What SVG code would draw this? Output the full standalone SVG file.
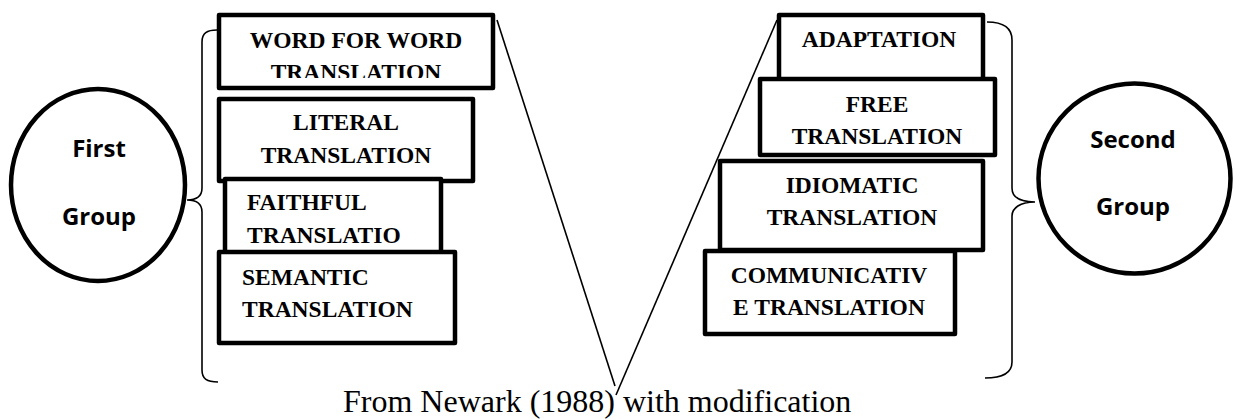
<svg xmlns="http://www.w3.org/2000/svg" width="1241" height="419" viewBox="0 0 1241 419">
<style>
.box{fill:#fff;stroke:#000;stroke-width:4.5;stroke-linejoin:round}
.circ{fill:#fff;stroke:#000;stroke-width:4.5}
.t{font-family:"Liberation Serif",serif;font-weight:bold;font-size:23.5px;fill:#000}
.c{text-anchor:middle}
.g{font-family:"Open Sans","Liberation Sans",sans-serif;font-weight:bold;font-size:24px;fill:#000;text-anchor:middle}
.ln{fill:none;stroke:#000;stroke-width:1.6}
.cap{font-family:"Liberation Serif",serif;font-size:32px;fill:#000}
</style>
<defs>
<clipPath id="clip1"><rect x="219" y="15" width="274" height="63"/></clipPath>
</defs>
<rect width="1241" height="419" fill="#fff"/>
<g id="first-group">
<ellipse class="circ" cx="98" cy="185" rx="87" ry="96"/>
<text class="g" x="99" y="157">First</text>
<text class="g" x="99" y="225">Group</text>
</g>
<g id="second-group">
<ellipse class="circ" cx="1134.5" cy="178.5" rx="96" ry="95"/>
<text class="g" x="1133" y="148">Second</text>
<text class="g" x="1133" y="215">Group</text>
</g>
<g id="word-for-word">
<rect class="box" x="219" y="15" width="274" height="73"/>
<g clip-path="url(#clip1)">
<text class="t c" x="356" y="48">WORD FOR WORD</text>
<text class="t c" x="356" y="80">TRANSLATION</text>
</g>
</g>
<g id="literal">
<rect class="box" x="219" y="99" width="254" height="82"/>
<text class="t c" x="346" y="130">LITERAL</text>
<text class="t c" x="346" y="163">TRANSLATION</text>
</g>
<g id="faithful">
<rect class="box" x="225" y="179" width="216" height="80"/>
<text class="t" x="247" y="210">FAITHFUL</text>
<text class="t" x="247" y="243">TRANSLATIO</text>
</g>
<g id="semantic">
<rect class="box" x="219" y="252" width="236" height="91"/>
<text class="t" x="242" y="285">SEMANTIC</text>
<text class="t" x="242" y="317">TRANSLATION</text>
</g>
<g id="adaptation">
<rect class="box" x="779" y="15" width="204" height="70"/>
<text class="t c" x="879" y="47">ADAPTATION</text>
</g>
<g id="free">
<rect class="box" x="760" y="79" width="235" height="76"/>
<text class="t c" x="877" y="112">FREE</text>
<text class="t c" x="877" y="144">TRANSLATION</text>
</g>
<g id="idiomatic">
<rect class="box" x="720" y="161" width="263" height="89"/>
<text class="t c" x="852" y="193">IDIOMATIC</text>
<text class="t c" x="852" y="225">TRANSLATION</text>
</g>
<g id="communicative">
<rect class="box" x="705" y="251" width="250" height="83"/>
<text class="t c" x="829" y="283">COMMUNICATIV</text>
<text class="t c" x="829" y="315">E TRANSLATION</text>
</g>
<text class="cap" x="343" y="412">From Newark (1988) with modification</text>
<g id="connectors">
<path class="ln" d="M217 30 C207 30 202 33 202 42 L202 188 C202 196 197 200 187 200 C197 200 202 204 202 212 L202 370 C202 379 207 382 218 382"/>
<path class="ln" d="M987 22 C1004 22 1012 28 1012 40 L1012 188 C1012 197 1020 202 1035 202 C1020 202 1012 208 1012 216 L1012 362 C1012 372 1004 378 985 378"/>
<line class="ln" x1="497" y1="20" x2="615" y2="386"/>
<line class="ln" x1="777" y1="20" x2="616" y2="395"/>
</g>
</svg>
